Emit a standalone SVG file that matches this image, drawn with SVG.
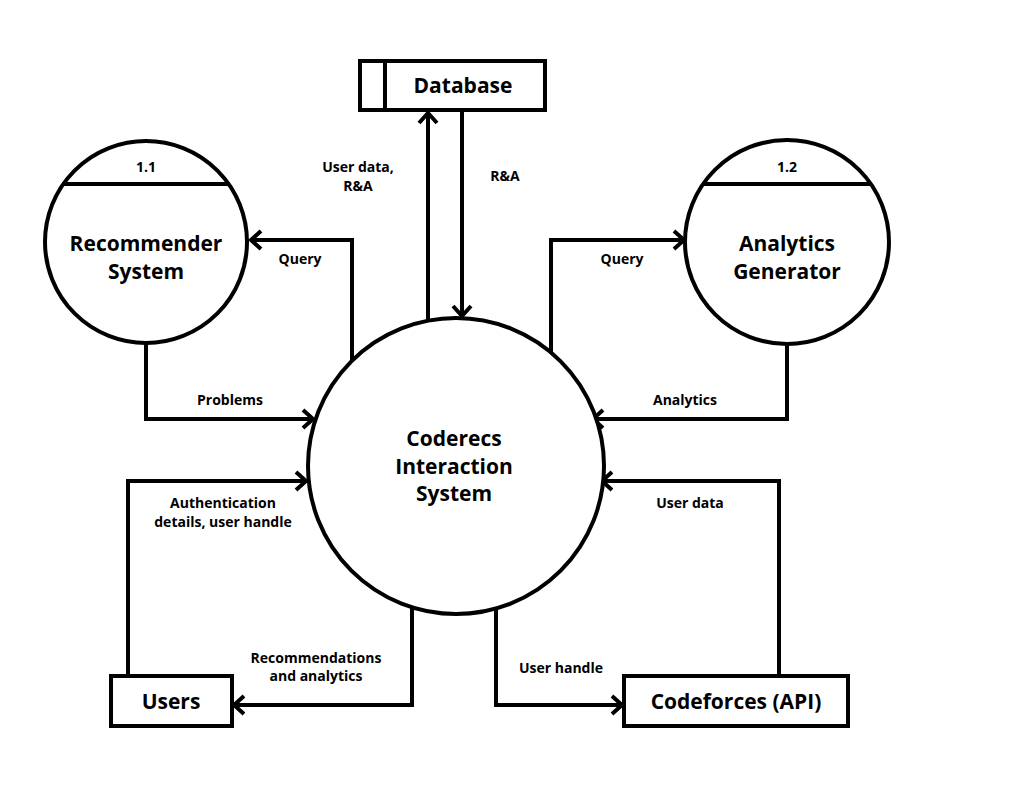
<svg xmlns="http://www.w3.org/2000/svg" width="1009" height="800" viewBox="0 0 1009 800">
<style>
.s{fill:#fff;stroke:#000;stroke-width:4}
.c{fill:none;stroke:#000;stroke-width:4;stroke-linejoin:miter}
.t{font-family:"Open Sans","Noto Sans","Liberation Sans",sans-serif;font-weight:bold;fill:#000;text-anchor:middle}
.n{font-size:21px}
.l{font-size:14px}
</style>
<defs>
<marker id="a" markerUnits="userSpaceOnUse" markerWidth="30" markerHeight="30" viewBox="-15 -15 30 30" refX="0" refY="0" orient="auto">
<path d="M-10,-9 L0,0 L-10,9" fill="none" stroke="#000" stroke-width="4" stroke-linejoin="miter"/>
</marker>
</defs>
<rect width="1009" height="800" fill="#fff"/>
<g id="connectors">
<path class="c" d="M428,321 V113" marker-end="url(#a)"/>
<path class="c" d="M462,111 V316" marker-end="url(#a)"/>
<path class="c" d="M352,361 V240 H251" marker-end="url(#a)"/>
<path class="c" d="M146,343 V419 H313" marker-end="url(#a)"/>
<path class="c" d="M551,353 V240 H684" marker-end="url(#a)"/>
<path class="c" d="M787,344 V419 H593" marker-end="url(#a)"/>
<path class="c" d="M128,675 V481 H306" marker-end="url(#a)"/>
<path class="c" d="M412,607 V705 H234" marker-end="url(#a)"/>
<path class="c" d="M496,609 V705 H622" marker-end="url(#a)"/>
<path class="c" d="M779,675 V481 H602" marker-end="url(#a)"/>
<text class="t l" x="358" y="172">User data,</text>
<text class="t l" x="358" y="191">R&amp;A</text>
<text class="t l" x="505" y="181">R&amp;A</text>
<text class="t l" x="300" y="264">Query</text>
<text class="t l" x="622" y="264">Query</text>
<text class="t l" x="230" y="405">Problems</text>
<text class="t l" x="685" y="405">Analytics</text>
<text class="t l" x="223" y="508">Authentication</text>
<text class="t l" x="223" y="527">details, user handle</text>
<text class="t l" x="690" y="508">User data</text>
<text class="t l" x="316" y="663">Recommendations</text>
<text class="t l" x="316" y="681">and analytics</text>
<text class="t l" x="561" y="673">User handle</text>
</g>
<g id="database">
<rect class="s" x="360" y="61" width="185" height="49"/>
<line class="c" x1="385" y1="61" x2="385" y2="110"/>
<text class="t n" x="463" y="93">Database</text>
</g>
<g id="recommender">
<circle class="s" cx="146" cy="242" r="101"/>
<line class="c" x1="62" y1="184" x2="230" y2="184"/>
<text class="t l" x="146" y="172">1.1</text>
<text class="t n" x="146" y="251">Recommender</text>
<text class="t n" x="146" y="279">System</text>
</g>
<g id="analytics">
<circle class="s" cx="787" cy="242" r="102"/>
<line class="c" x1="703" y1="184" x2="871" y2="184"/>
<text class="t l" x="787" y="172">1.2</text>
<text class="t n" x="787" y="251">Analytics</text>
<text class="t n" x="787" y="279">Generator</text>
</g>
<g id="main">
<circle class="s" cx="456" cy="466" r="148"/>
<text class="t n" x="454" y="446">Coderecs</text>
<text class="t n" x="454" y="474">Interaction</text>
<text class="t n" x="454" y="501">System</text>
</g>
<g id="users">
<rect class="s" x="111" y="676" width="121" height="50"/>
<text class="t n" x="171" y="709">Users</text>
</g>
<g id="codeforces">
<rect class="s" x="624" y="676" width="224" height="50"/>
<text class="t n" x="736" y="709">Codeforces (API)</text>
</g>
</svg>
